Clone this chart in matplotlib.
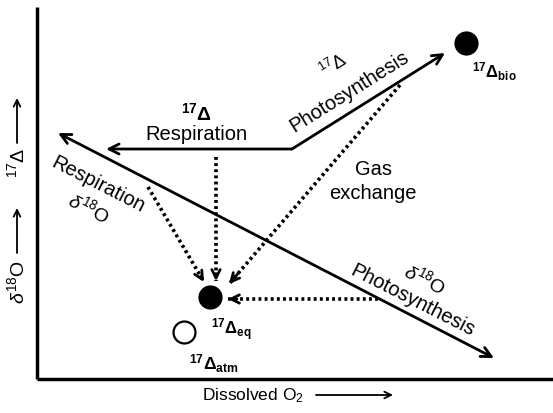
import matplotlib
matplotlib.use("Agg")
import matplotlib.pyplot as plt

plt.rcParams["font.family"] = ["Liberation Sans", "DejaVu Sans"]
plt.rcParams["mathtext.fontset"] = "custom"
plt.rcParams["mathtext.rm"] = "Liberation Sans"
plt.rcParams["mathtext.it"] = "Liberation Sans:italic"
plt.rcParams["mathtext.bf"] = "Liberation Sans:bold"

# diagram coordinates (pixel space of the original picture, y downwards)
axis_origin = (37, 380)
axis_top = 8
axis_right = 553

# solid process arrows: (start, end)
solid_arrows = [
    ((292, 150), (445, 54)),   # 17D photosynthesis
    ((292, 150), (106, 150)),  # 17D respiration
]
diagonal = ((58, 134), (494, 359))  # d18O respiration <-> photosynthesis

# dotted arrows towards equilibrium
dotted_arrows = [
    ((216, 158), (216, 282)),
    ((148, 188), (204, 283)),
    ((400, 86), (229, 285)),
    ((378, 300), (228, 300)),
]

# points: (x, y, filled)
points = {
    "bio": (466, 44, True),
    "eq": (210, 298, True),
    "atm": (184, 333, False),
}

fig = plt.figure(figsize=(5.53, 4.14), dpi=100)
ax = fig.add_axes([0, 0, 1, 1])
ax.set_xlim(0, 553)
ax.set_ylim(414, 0)
ax.axis("off")

# axes of the diagram
ax.plot([axis_origin[0], axis_origin[0]], [axis_top, axis_origin[1]], color="black", lw=2.5,
        solid_capstyle="butt")
ax.plot([axis_origin[0], axis_right], [axis_origin[1], axis_origin[1]], color="black", lw=2.5,
        solid_capstyle="butt")

# axis labels
ax.text(202, 396, r"Dissolved O$_2$", fontsize=12.5, ha="left", va="center")
ax.annotate("", xy=(393, 396), xytext=(316, 396),
            arrowprops=dict(arrowstyle="->", color="black", lw=1.3, mutation_scale=12,
                            shrinkA=0, shrinkB=0))
ax.text(17, 282, r"$\delta^{18}$O", fontsize=14, rotation=90, ha="center", va="center")
ax.annotate("", xy=(17, 209), xytext=(17, 254),
            arrowprops=dict(arrowstyle="->", color="black", lw=1.3, mutation_scale=12,
                            shrinkA=0, shrinkB=0))
ax.text(17, 163, r"$^{17}\Delta$", fontsize=14, rotation=90, ha="center", va="center")
ax.annotate("", xy=(17, 99), xytext=(17, 144),
            arrowprops=dict(arrowstyle="->", color="black", lw=1.3, mutation_scale=12,
                            shrinkA=0, shrinkB=0))

# solid arrows
for start, end in solid_arrows:
    ax.annotate("", xy=end, xytext=start,
                arrowprops=dict(arrowstyle="->", color="black", lw=2,
                                mutation_scale=18, shrinkA=0, shrinkB=0))
ax.annotate("", xy=diagonal[1], xytext=diagonal[0],
            arrowprops=dict(arrowstyle="<->", color="black", lw=2,
                            mutation_scale=18, shrinkA=0, shrinkB=0))

# dotted arrows: dotted shaft + solid open head
for start, end in dotted_arrows:
    ax.plot([start[0], end[0]], [start[1], end[1]], color="black", lw=2.6,
            linestyle=(0, (0.8, 0.9)), solid_capstyle="butt")
    f = 0.06
    head_from = (end[0] - f * (end[0] - start[0]), end[1] - f * (end[1] - start[1]))
    ax.annotate("", xy=end, xytext=head_from,
                arrowprops=dict(arrowstyle="->", color="black", lw=2,
                                mutation_scale=15, shrinkA=0, shrinkB=0))

# points
for name, (x, y, filled) in points.items():
    ax.scatter([x], [y], s=250, facecolor="black" if filled else "white",
               edgecolor="black", linewidth=1.6, zorder=5)

# point labels
ax.text(472, 72, r"$\mathbf{^{17}\Delta_{bio}}$", fontsize=12, ha="left", va="center")
ax.text(211, 330, r"$\mathbf{^{17}\Delta_{eq}}$", fontsize=12, ha="left", va="center")
ax.text(189, 364, r"$\mathbf{^{17}\Delta_{atm}}$", fontsize=12.5, ha="left", va="center")

# process labels
ax.text(196, 113, r"$\mathbf{^{17}\Delta}$", fontsize=14, ha="center", va="center")
ax.text(196, 135, "Respiration", fontsize=14.5, ha="center", va="center")
ax.text(334, 66, r"$^{17}\Delta$", fontsize=13, rotation=32, ha="center", va="center")
ax.text(349, 92, "Photosynthesis", fontsize=14.5, rotation=32, ha="center", va="center")
ax.text(98, 185, "Respiration", fontsize=14.5, rotation=-27, ha="center", va="center")
ax.text(89, 208, r"$\delta^{18}$O", fontsize=14, rotation=-27, ha="center", va="center")
ax.text(425, 279, r"$\delta^{18}$O", fontsize=14, rotation=-27, ha="center", va="center")
ax.text(413, 301, "Photosynthesis", fontsize=14.5, rotation=-27, ha="center", va="center")
ax.text(373, 170, "Gas", fontsize=14.5, ha="center", va="center")
ax.text(373, 194, "exchange", fontsize=14.5, ha="center", va="center")

fig.savefig("out.png", dpi=100)
